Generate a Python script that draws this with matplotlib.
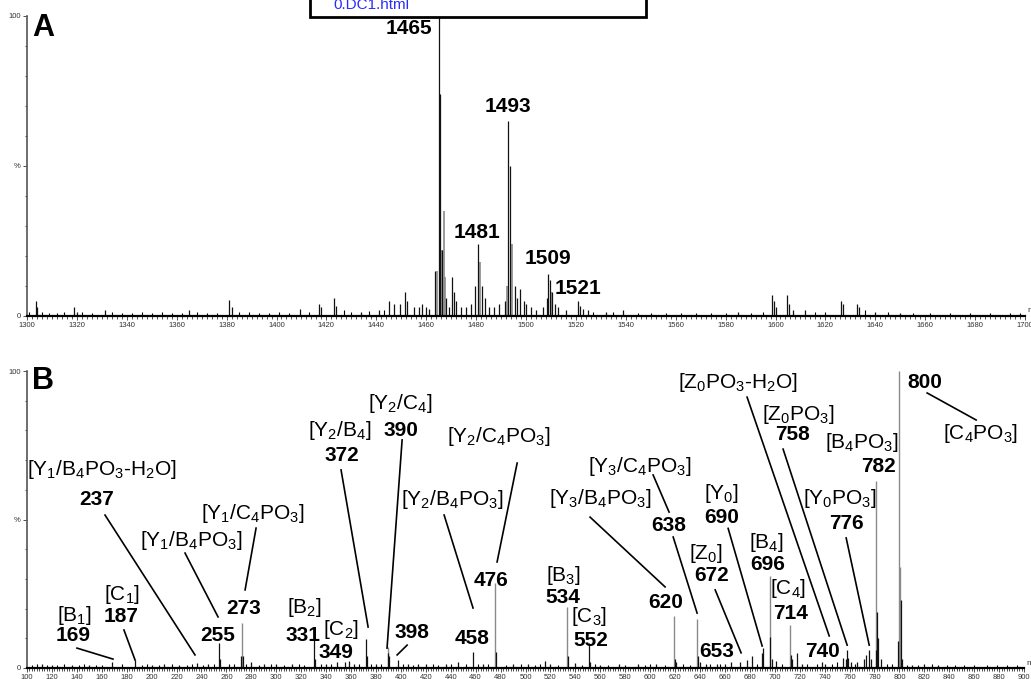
import matplotlib.pyplot as plt
from matplotlib.patches import Rectangle
from matplotlib.ticker import MultipleLocator, FixedLocator, FixedFormatter

plt.rcParams['font.family'] = ['Liberation Sans', 'DejaVu Sans']
plt.rcParams['mathtext.fontset'] = 'custom'
plt.rcParams['mathtext.rm'] = 'Liberation Sans'
plt.rcParams['mathtext.it'] = 'Liberation Sans:italic'
plt.rcParams['mathtext.bf'] = 'Liberation Sans:bold'
plt.rcParams['mathtext.default'] = 'regular'

# --- panel A: MS of the intact ions (m/z, relative intensity %) ---
a_mz_dark = [1303.5, 1304.2, 1319, 1320, 1331.3, 1365, 1381, 1382, 1409.5, 1417, 1418,
             1423, 1424, 1434, 1441, 1445, 1447, 1449.5, 1451.5, 1452.5, 1455, 1457,
             1458.5, 1460, 1461, 1463.5, 1465, 1465.7, 1466.5, 1468, 1469, 1470.5,
             1471.3, 1472, 1474, 1476, 1478, 1479.5, 1480.6, 1482.5, 1483.5, 1485,
             1487, 1489, 1491.5, 1492.8, 1493.7, 1495.5, 1496.5, 1497.5, 1499, 1500,
             1502, 1504, 1507, 1508.3, 1509, 1509.7, 1510.5, 1511.5, 1513, 1516,
             1520.8, 1521.8, 1523, 1525, 1532, 1539, 1585, 1598.5, 1599.3, 1600.3,
             1604.5, 1605.3, 1607, 1612, 1626.3, 1627, 1632.5, 1633.5, 1640, 1650]
a_int_dark = [5, 3, 3, 1.5, 2, 2, 5.5, 3, 2.5, 4, 3,
              6, 3.5, 1.5, 2, 5, 4, 4, 8, 5, 3, 3,
              4, 3, 2.5, 15, 100, 74, 22, 6, 3, 13,
              8, 5, 3, 3, 4, 10, 24, 10, 6, 3,
              3, 4, 5, 65, 50, 10, 6, 9, 5, 4,
              3, 2, 3, 6, 14, 12, 8, 4, 3, 2,
              5, 3.5, 2.5, 2, 1.5, 2, 1.5, 7, 5, 3,
              7, 4, 2, 2, 5, 4, 4, 3, 1.5, 1]
a_mz_grey = [1464.2, 1466.2, 1467.1, 1467.6, 1481.5, 1492.3, 1494.5, 1510.2]
a_int_grey = [15, 22, 35, 13, 18, 10, 24, 8]
a_mz_noise = [1301, 1306, 1309, 1312, 1315, 1322, 1326, 1334, 1338, 1342, 1346, 1350,
              1354, 1358, 1362, 1368, 1372, 1376, 1385, 1389, 1393, 1397, 1401, 1405,
              1413, 1427, 1430, 1437, 1443, 1527, 1535, 1545, 1550, 1556, 1562, 1568,
              1574, 1580, 1590, 1595, 1616, 1620, 1636, 1645, 1655, 1662, 1670, 1678,
              1686, 1694, 1698]
a_int_noise = [1.2, 1.5, 1, 1, 1.2, 1.5, 1, 1.2, 1, 1, 1.2, 1,
               1.2, 1, 1, 1.2, 1, 1, 1.5, 1.2, 1, 1, 1.2, 1,
               1.5, 2, 1.5, 1.8, 2, 1.5, 1.5, 1, 1, 1, 1, 1,
               1, 1, 1, 1.2, 1.5, 1.5, 2, 1.2, 1, 1, 1, 1,
               1, 1, 1]
a_labels = ['1465', '1493', '1481', '1509', '1521']

# --- panel B: MS/MS fragments of m/z 1465 ---
b_mz_dark = [112, 120, 136, 150, 168.5, 186.7, 200, 210, 222, 236.7, 245, 254.3, 255,
             271.5, 273, 280, 290, 300, 313, 330.6, 331.3, 340, 349, 355, 358, 362,
             371.7, 372.5, 380, 389.8, 390.5, 398, 406, 414, 420, 436, 446, 457.7,
             466, 476.4, 490, 502, 515.7, 520, 534.2, 539.8, 551.3, 552, 560, 575,
             590, 605, 620, 621, 638.3, 640, 645, 653.8, 660, 665, 672, 677.8, 682,
             689.6, 690.4, 696.4, 697.5, 701, 713, 714, 718, 722, 738, 740, 754.5,
             757.2, 758, 759, 761, 766, 772, 773.5, 776, 777, 781, 782.3, 783.2,
             785, 798.8, 801.2, 802, 810, 820, 831]
b_int_dark = [1.5, 1, 1, 1, 2, 2.7, 1, 1.5, 1, 1.7, 1.2, 8.4, 3,
              4, 4, 2, 1.5, 1.2, 1.5, 9.4, 3, 1.2, 2, 2, 2.5, 1.5,
              9.7, 4, 1.5, 5, 4, 2.7, 1.5, 1.5, 1.2, 1.5, 2, 5.5,
              1.5, 5.5, 1.5, 1.2, 2.4, 1.2, 4, 1.8, 8.5, 2, 1, 1.2,
              1.5, 1.2, 3, 2, 4, 2, 1.5, 1.5, 1.5, 2, 2, 2.7, 4,
              5, 6.7, 10.5, 3, 2.5, 4.5, 3, 5, 1.5, 2, 1.5, 3.5,
              3, 6, 3.5, 2, 2, 3, 4.5, 6, 3, 6, 19, 10,
              3, 9, 23, 3, 1, 1.2, 1]
b_mz_grey = [272.2, 389.3, 475.6, 533.6, 619.3, 637.5, 695.9, 712.4, 781.5, 799.8, 800.6]
b_int_grey = [15, 7, 28.6, 20.5, 17.5, 16.5, 31, 14.5, 63, 100, 34]
b_mz_noise = [104, 108, 116, 124, 130, 142, 146, 155, 160, 176, 192, 196, 206, 216,
              228, 232, 241, 250, 262, 266, 276, 286, 296, 306, 318, 322, 336, 344,
              366, 376, 384, 402, 410, 426, 430, 440, 452, 462, 470, 484, 496, 508,
              512, 526, 545, 556, 566, 580, 596, 600, 612, 626, 632, 648, 656, 686,
              706, 726, 734, 746, 750, 764, 790, 794, 806, 815, 826, 838, 845, 852,
              860, 870, 878, 886, 894]
b_int_noise = [1, 1.2, 1, 1, 1.2, 1, 1.2, 1, 1, 1.2, 1, 1.2, 1, 1.2,
               1, 1.2, 1, 1.5, 1.2, 1.5, 1.2, 1, 1.2, 1, 1.2, 1, 1.5, 1.2,
               1.5, 1.5, 1.2, 1.5, 1, 1.2, 1, 1.5, 1.5, 1.2, 1.2, 1, 1.2, 1,
               1.2, 1, 1, 1.5, 1, 1, 1, 1.2, 1, 1.2, 1, 1.5, 1.2, 1.5,
               1.5, 1.2, 1.5, 1.2, 2, 1.5, 1.5, 1.2, 1, 1, 1.5, 1, 1, 1,
               1, 1, 1, 1, 1]

b_ions = ['[Y$_1$/B$_4$PO$_3$-H$_2$O]', '[Y$_1$/C$_4$PO$_3$]', '[Y$_1$/B$_4$PO$_3$]',
          '[B$_1$]', '[C$_1$]', '[B$_2$]', '[C$_2$]', '[Y$_2$/B$_4$]', '[Y$_2$/C$_4$]',
          '[Y$_2$/B$_4$PO$_3$]', '[Y$_2$/C$_4$PO$_3$]', '[B$_3$]', '[C$_3$]',
          '[Y$_3$/B$_4$PO$_3$]', '[Y$_3$/C$_4$PO$_3$]', '[Y$_0$]', '[Z$_0$]', '[B$_4$]',
          '[C$_4$]', '[Z$_0$PO$_3$-H$_2$O]', '[Z$_0$PO$_3$]', '[B$_4$PO$_3$]',
          '[Y$_0$PO$_3$]', '[C$_4$PO$_3$]']
b_masses = ['237', '273', '255', '169', '187', '331', '349', '372', '390', '398', '458',
            '476', '534', '552', '620', '638', '690', '672', '653', '696', '714', '740',
            '758', '782', '776', '800']

# label placement (m/z, %)
b_ion_pos = [(160.2, 67.0), (281.4, 51.9), (231.6, 42.8), (137.7, 17.6), (176.2, 24.9),
             (322.3, 20.5), (352.0, 13.1), (351.2, 80.1), (399.4, 89.2), (441.1, 56.6),
             (478.8, 77.8), (530.2, 31.0), (551.0, 17.2), (559.9, 57.2), (592.0, 68.0),
             (657.0, 58.6), (645.0, 38.7), (693.1, 42.1), (710.8, 26.9), (670.6, 96.0),
             (718.8, 85.5), (770.1, 75.8), (752.5, 57.2), (864.9, 79.1)]
b_mass_pos = [(156.2, 56.6), (274.2, 19.9), (253.3, 10.8), (136.9, 10.8), (175.4, 17.3),
              (321.5, 10.8), (348.0, 5.1), (352.8, 71.7), (400.2, 80.1), (409.0, 12.1),
              (457.1, 9.8), (472.4, 29.3), (530.2, 23.9), (552.6, 9.4), (612.8, 21.9),
              (615.2, 48.1), (657.8, 50.6), (649.0, 31.0), (653.8, 5.7), (694.7, 35.0),
              (712.4, 18.5), (738.0, 5.4), (714.0, 78.5), (783.0, 68.0), (757.3, 48.8),
              (820.7, 96.0)]
b_leaders = [((162.6, 51.5), (234.8, 4.4)), ((283.8, 47.1), (275.0, 26.3)),
             ((226.8, 38.7), (253.3, 17.2)), ((140.1, 6.7), (169.0, 3.0)),
             ((177.8, 12.8), (186.7, 2.7)), ((352.0, 66.7), (373.7, 13.8)),
             ((401.0, 76.8), (388.9, 6.7)), ((405.0, 7.7), (397.0, 4.4)),
             ((434.7, 51.5), (457.9, 20.2)), ((493.3, 69.0), (477.2, 35.7)),
             ((551.8, 50.8), (612.0, 27.3)), ((602.4, 65.0), (615.2, 52.5)),
             ((618.5, 44.1), (637.7, 18.5)), ((662.6, 47.0), (689.9, 7.4)),
             ((652.2, 26.3), (673.0, 5.1)), ((677.8, 91.2), (743.7, 10.8)),
             ((706.7, 73.7), (758.1, 7.7)), ((757.3, 43.8), (775.8, 7.7)),
             ((822.3, 92.6), (861.6, 83.5))]
a_label_pos = [(1453.1, 95.8), (1492.8, 69.7), (1480.4, 28.0), (1508.8, 19.3), (1520.8, 9.3)]

W, H = 1031, 679
fig = plt.figure(figsize=(W / 100, H / 100), dpi=100)
ax_a = fig.add_axes([27 / W, (H - 316) / H, 998 / W, 300 / H])
ax_b = fig.add_axes([27 / W, (H - 668) / H, 997 / W, 297 / H])


def style_axis(ax, x0, x1):
    ax.set_xlim(x0, x1)
    ax.set_ylim(0, 100)
    for s in ['top', 'right']:
        ax.spines[s].set_visible(False)
    ax.spines['left'].set_color('#555555')
    ax.spines['left'].set_linewidth(1.2)
    ax.spines['bottom'].set_color('black')
    ax.spines['bottom'].set_linewidth(1.6)
    ax.xaxis.set_major_locator(MultipleLocator(20))
    ax.xaxis.set_minor_locator(MultipleLocator(2))
    ax.yaxis.set_major_locator(FixedLocator([0, 50, 100]))
    ax.yaxis.set_major_formatter(FixedFormatter(['0', '%', '100']))
    ax.yaxis.set_minor_locator(MultipleLocator(10))
    ax.tick_params(which='both', direction='out', colors='#333333', labelsize=5.5,
                   width=0.6, pad=1.5)
    ax.tick_params(which='major', length=3)
    ax.tick_params(which='minor', length=1.8)
    ax.text(1.002, 0.005, 'm/z', transform=ax.transAxes, fontsize=6, color='#333333',
            ha='left', va='bottom', clip_on=False)


# panel A
ax = ax_a
style_axis(ax, 1300, 1700)
ax.vlines(a_mz_noise, 0, a_int_noise, color='black', lw=0.8)
ax.vlines(a_mz_grey, 0, a_int_grey, color='#8a8a8a', lw=1.2)
ax.vlines(a_mz_dark, 0, a_int_dark, color='#111111', lw=0.9)
for lab, (x, y) in zip(a_labels, a_label_pos):
    ax.text(x, y, lab, fontsize=15, fontweight='bold', ha='center', va='center')
ax.text(0.005, 0.96, 'A', transform=ax.transAxes, fontsize=22, fontweight='bold',
        ha='left', va='center')

# panel B
ax = ax_b
style_axis(ax, 100, 900)
ax.vlines(b_mz_noise, 0, b_int_noise, color='black', lw=0.8)
ax.vlines(b_mz_grey, 0, b_int_grey, color='#8a8a8a', lw=1.0)
ax.vlines(b_mz_dark, 0, b_int_dark, color='#111111', lw=0.9)
for lab, (x, y) in zip(b_ions, b_ion_pos):
    ax.text(x, y, lab, fontsize=15, ha='center', va='center', clip_on=False)
for lab, (x, y) in zip(b_masses, b_mass_pos):
    ax.text(x, y, lab, fontsize=15, fontweight='bold', ha='center', va='center',
            clip_on=False)
for (p0, p1) in b_leaders:
    ax.plot([p0[0], p1[0]], [p0[1], p1[1]], color='black', lw=1.2, clip_on=False)
ax.text(0.005, 0.966, 'B', transform=ax.transAxes, fontsize=22, fontweight='bold',
        ha='left', va='center')

# clipped link box at the top of the page
fig.patches.append(Rectangle((310 / W, 1 - 17 / H), 336 / W, 30 / H,
                             transform=fig.transFigure, facecolor='white',
                             edgecolor='black', lw=2, zorder=10))
fig.text(333 / W, 1 - 9 / H, '0.DC1.html', color='#2b2bff', fontsize=11,
         ha='left', va='baseline', zorder=11)

fig.savefig('out.png', dpi=100)
